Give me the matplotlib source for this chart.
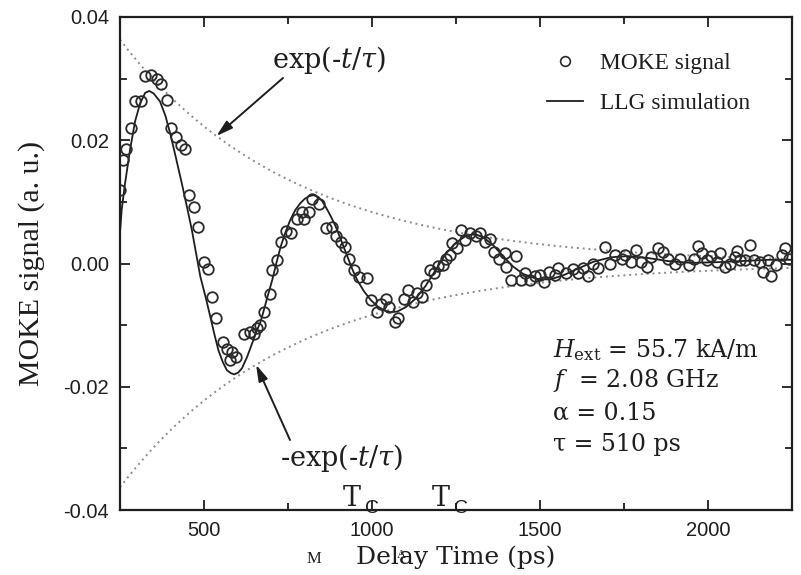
import numpy as np
import matplotlib
matplotlib.use("Agg")
import matplotlib.pyplot as plt
from matplotlib.ticker import MultipleLocator
from matplotlib.lines import Line2D

# Measured MOKE signal (delay time in ps, signal in a.u.)
moke_t = [250, 260, 268, 282, 295, 312, 323, 342, 359, 371, 389, 402, 416, 431, 444,
          456, 469, 482, 499, 511, 524, 537, 557, 569, 576, 583, 596, 618, 638, 648,
          658, 668, 678, 696, 703, 718, 730, 743, 760, 777, 792, 797, 812, 822, 842,
          862, 882, 892, 907, 919, 931, 946, 961, 984, 996, 1014, 1026, 1041, 1051, 1068,
          1076, 1094, 1106, 1121, 1134, 1148, 1160, 1173, 1185, 1195, 1210, 1220, 1233, 1238, 1253,
          1265, 1277, 1293, 1310, 1322, 1337, 1352, 1364, 1379, 1396, 1399, 1414, 1429, 1442, 1454,
          1469, 1484, 1499, 1512, 1528, 1544, 1553, 1578, 1598, 1613, 1628, 1643, 1658, 1673, 1693,
          1708, 1723, 1743, 1754, 1772, 1787, 1802, 1817, 1830, 1850, 1867, 1882, 1902, 1917, 1942,
          1957, 1969, 1981, 1996, 2009, 2026, 2035, 2051, 2066, 2079, 2086, 2096, 2111, 2126, 2136,
          2155, 2163, 2180, 2188, 2202, 2220, 2230, 2240]
moke_v = [0.0119, 0.0168, 0.0185, 0.0220, 0.0263, 0.0263, 0.0304, 0.0306, 0.0300, 0.0291,
          0.0266, 0.0220, 0.0206, 0.0193, 0.0185, 0.0111, 0.0091, 0.0060, 0.0003, -0.0009,
          -0.0054, -0.0089, -0.0127, -0.0138, -0.0157, -0.0143, -0.0152, -0.0114, -0.0111, -0.0114,
          -0.0105, -0.0100, -0.0078, -0.0050, -0.0011, 0.0005, 0.0035, 0.0053, 0.0049, 0.0072,
          0.0084, 0.0073, 0.0084, 0.0104, 0.0096, 0.0057, 0.0059, 0.0044, 0.0035, 0.0026,
          0.0008, -0.0011, -0.0022, -0.0024, -0.0059, -0.0078, -0.0065, -0.0057, -0.0071, -0.0095,
          -0.0089, -0.0058, -0.0043, -0.0062, -0.0048, -0.0055, -0.0035, -0.0011, -0.0016, -0.0004,
          -0.0002, 0.0008, 0.0014, 0.0034, 0.0025, 0.0054, 0.0038, 0.0049, 0.0044, 0.0049,
          0.0035, 0.0039, 0.0019, 0.0008, 0.0017, -0.0005, -0.0027, 0.0012, -0.0027, -0.0016,
          -0.0027, -0.0021, -0.0019, -0.0030, -0.0013, -0.0019, -0.0008, -0.0016, -0.0009, -0.0016,
          -0.0008, -0.0021, 0.0000, -0.0008, 0.0026, 0.0000, 0.0014, 0.0008, 0.0014, 0.0003,
          0.0022, 0.0003, -0.0005, 0.0011, 0.0025, 0.0018, 0.0008, 0.0000, 0.0008, -0.0002,
          0.0007, 0.0028, 0.0017, 0.0006, 0.0012, 0.0003, 0.0017, -0.0005, 0.0000, 0.0011,
          0.0021, 0.0006, 0.0006, 0.0030, 0.0006, 0.0003, -0.0013, 0.0006, -0.0021, -0.0002,
          0.0014, 0.0025, 0.0008]

# LLG simulation curve
llg_t = [250, 255, 265, 280, 295, 310, 325, 337, 350, 369, 385, 399, 415, 434, 450,
         464, 476, 489, 505, 519, 531, 543, 556, 568, 580, 590, 602, 613, 628, 643,
         658, 668, 678, 690, 703, 715, 728, 742, 757, 772, 787, 800, 812, 825, 840,
         852, 862, 877, 892, 910, 927, 942, 956, 976, 996, 1015, 1035, 1055, 1075, 1100,
         1130, 1160, 1190, 1220, 1250, 1280, 1305, 1330, 1360, 1390, 1420, 1450, 1490, 1530,
         1570, 1610, 1660, 1710, 1760, 1820, 1880, 1950, 2020, 2100, 2180, 2250]
llg_v = [0.0050, 0.0087, 0.0130, 0.0185, 0.0231, 0.0260, 0.0277, 0.0280, 0.0276, 0.0263,
         0.0240, 0.0212, 0.0175, 0.0130, 0.0090, 0.0054, 0.0018, -0.0021, -0.0055, -0.0087,
         -0.0115, -0.0141, -0.0160, -0.0173, -0.0178, -0.0180, -0.0177, -0.0170, -0.0152, -0.0130,
         -0.0108, -0.0095, -0.0076, -0.0052, -0.0027, 0.0000, 0.0027, 0.0050, 0.0071, 0.0087,
         0.0098, 0.0105, 0.0109, 0.0111, 0.0108, 0.0101, 0.0092, 0.0077, 0.0060, 0.0035,
         0.0011, -0.0010, -0.0027, -0.0045, -0.0059, -0.0069, -0.0076, -0.0079, -0.0078, -0.0071,
         -0.0057, -0.0036, -0.0010, 0.0016, 0.0034, 0.0045, 0.0048, 0.0043, 0.0030, 0.0012,
         -0.0005, -0.0017, -0.0025, -0.0026, -0.0019, -0.0009, 0.0003, 0.0010, 0.0012, 0.0009,
         0.0004, 0.0001, 0.0002, 0.0004, 0.0006, 0.0006]

# Decay envelope +/- A exp(-t/tau)
tau_ps = 510.0
envelope_amp = 0.0593

x_range = (250, 2250)
y_range = (-0.04, 0.04)
x_ticks = [500, 1000, 1500, 2000]
x_tick_labels = ["500", "1000", "1500", "2000"]
y_ticks = [-0.04, -0.02, 0.00, 0.02, 0.04]
y_tick_labels = ["-0.04", "-0.02", "0.00", "0.02", "0.04"]

param_lines = [r"$H_{\mathrm{ext}}$ = 55.7 kA/m",
               r"$f$  = 2.08 GHz",
               "α = 0.15",
               "τ = 510 ps"]

plt.rcParams["mathtext.fontset"] = "dejavuserif"

W, H = 801, 575
fig = plt.figure(figsize=(W / 100, H / 100), dpi=100)
ax = fig.add_axes([120 / W, 1 - 510 / H, 672 / W, 493 / H])


def fpos(x, y):
    """Pixel position (from top-left) to figure fraction."""
    return (x / W, 1 - y / H)


ink = "#1e1e1e"

# envelope
env_t = np.linspace(x_range[0], x_range[1], 500)
env_v = envelope_amp * np.exp(-env_t / tau_ps)
ax.plot(env_t, env_v, ls=(0, (1, 2)), color="#8c8c8c", lw=1.4, zorder=1)
ax.plot(env_t, -env_v, ls=(0, (1, 2)), color="#8c8c8c", lw=1.4, zorder=1)

# simulation and data
ax.plot(llg_t, llg_v, color=ink, lw=1.3, zorder=2)
ax.plot(moke_t, moke_v, ls="none", marker="o", ms=7.6, mfc="none",
        mec="#2a2a2a", mew=1.3, zorder=3)

ax.set_xlim(*x_range)
ax.set_ylim(*y_range)
ax.set_xticks(x_ticks, labels=x_tick_labels)
ax.set_yticks(y_ticks, labels=y_tick_labels)
ax.xaxis.set_minor_locator(MultipleLocator(250))
ax.yaxis.set_minor_locator(MultipleLocator(0.01))
ax.tick_params(which="both", direction="in", top=True, right=True,
               color=ink, width=1.3, labelsize=14.5, labelcolor=ink,
               labelfontfamily="Liberation Sans")
ax.tick_params(which="major", length=7.5)
ax.tick_params(which="minor", length=5)
ax.tick_params(axis="x", pad=8)
ax.tick_params(axis="y", pad=8)
for sp in ax.spines.values():
    sp.set_linewidth(1.6)
    sp.set_color(ink)

ax.set_ylabel("MOKE signal (a. u.)", fontfamily="Liberation Serif",
              fontsize=21.5, color=ink)
ax.yaxis.set_label_coords(-0.112, 0.5)
ax.set_xlabel("Delay Time (ps)", fontfamily="DejaVu Serif", fontsize=18,
              color=ink)
ax.xaxis.set_label_coords(0.5, -0.072)

# legend
handles = [Line2D([], [], ls="none", marker="o", ms=7.0, mfc="none",
                  mec="#2a2a2a", mew=1.2),
           Line2D([], [], color=ink, lw=1.3)]
leg = ax.legend(handles, ["MOKE signal", "LLG simulation"], loc="upper left",
                bbox_to_anchor=((547 - 120) / 672, (510 - 53) / 493),
                frameon=False, borderpad=0, borderaxespad=0,
                handlelength=1.55, handletextpad=0.7, labelspacing=0.78,
                prop={"family": "Liberation Serif", "size": 16.8})
for t in leg.get_texts():
    t.set_color(ink)

# envelope labels with arrows
arrow_style = dict(arrowstyle="-|>,head_length=0.55,head_width=0.16",
                   color=ink, lw=1.4, mutation_scale=18, shrinkA=0, shrinkB=0)
tip_up = 537.0
ax.annotate("", xy=(tip_up, envelope_amp * np.exp(-tip_up / tau_ps)),
            xycoords="data", xytext=fpos(283, 78), textcoords="figure fraction",
            arrowprops=arrow_style)
tip_dn = 655.0
ax.annotate("", xy=(tip_dn, -envelope_amp * np.exp(-tip_dn / tau_ps)),
            xycoords="data", xytext=fpos(290, 440), textcoords="figure fraction",
            arrowprops=arrow_style)

fig.text(*fpos(272, 60), r"exp(-$t/\tau$)", fontfamily="DejaVu Serif",
         fontsize=19.5, ha="left", va="center", color=ink)
fig.text(*fpos(280, 458), r"-exp(-$t/\tau$)", fontfamily="DejaVu Serif",
         fontsize=19.5, ha="left", va="center", color=ink)

# parameter block
for line, yc in zip(param_lines, [350, 381, 413, 444]):
    fig.text(*fpos(553, yc), line, fontfamily="DejaVu Serif", fontsize=17,
             ha="left", va="center", color=ink)

# stray characters along the time axis
for xt in (343, 432):
    fig.text(*fpos(xt, 506), "T", fontfamily="DejaVu Serif", fontsize=19.5,
             ha="left", va="baseline", color=ink)
    fig.text(*fpos(xt + 22, 513), "C", fontfamily="Liberation Sans",
             fontsize=14, ha="left", va="baseline", color=ink)
fig.text(*fpos(307, 563), "M", fontfamily="Liberation Serif", fontsize=12,
         ha="left", va="baseline", color=ink)
fig.text(*fpos(397, 558), "A", fontfamily="Liberation Serif", fontsize=9,
         ha="left", va="baseline", color=ink)

fig.savefig("out.png", dpi=100)
